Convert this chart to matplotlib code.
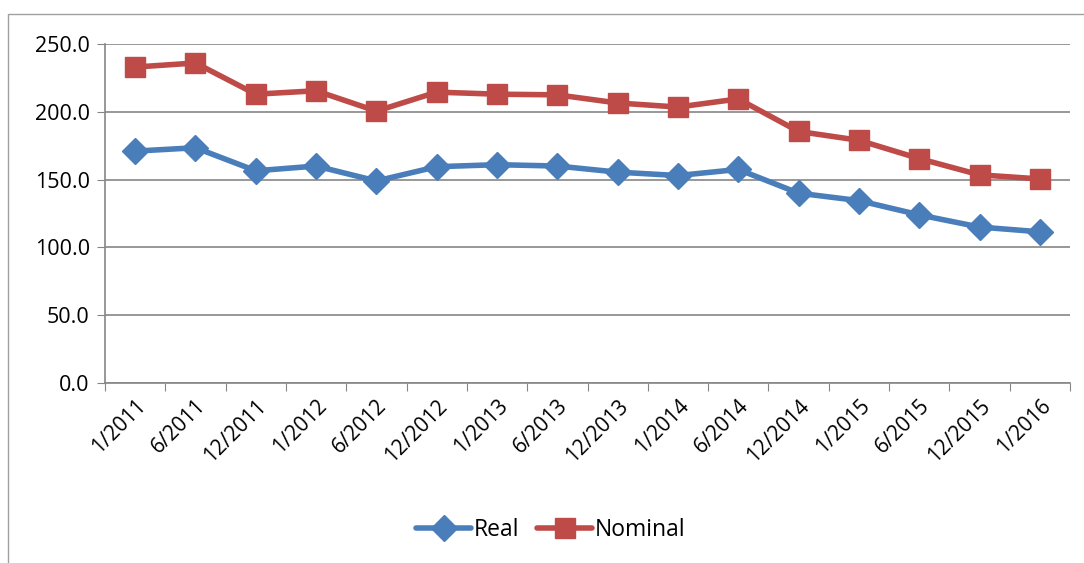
import numpy as np
import matplotlib.pyplot as plt

# valeurs lues par periode
periodes = ["1/2011", "6/2011", "12/2011", "1/2012", "6/2012", "12/2012",
            "1/2013", "6/2013", "12/2013", "1/2014", "6/2014", "12/2014",
            "1/2015", "6/2015", "12/2015", "1/2016"]
reel = [171.0, 173.5, 156.5, 160.0, 149.0, 159.5, 161.0, 160.0,
        155.5, 153.0, 157.5, 140.0, 134.5, 124.0, 115.0, 111.5]
nominal = [233.0, 236.0, 213.0, 215.5, 200.5, 214.5, 213.0, 212.5,
           206.5, 203.5, 209.5, 185.5, 179.0, 165.5, 153.5, 150.5]

plt.rcParams['font.family'] = ['Open Sans', 'DejaVu Sans']

fig = plt.figure(figsize=(10.84, 5.63), dpi=100)
ax = fig.add_axes([105 / 1084, 1 - 383 / 563, 965 / 1084, 339 / 563])

# cadre du graphique
cadre = plt.Rectangle((8 / 1084, -0.1), 1.2, 1 - 14 / 563 + 0.1,
                      transform=fig.transFigure, fill=False,
                      edgecolor='#a0a0a0', linewidth=1.0)
fig.patches.append(cadre)

x = np.arange(len(periodes))
ax.plot(x, reel, color='#4a7ebb', lw=4.0, marker='D', ms=13,
        label='Real', solid_capstyle='round', solid_joinstyle='round')
ax.plot(x, nominal, color='#be4b48', lw=4.0, marker='s', ms=14,
        label='Nominal', solid_capstyle='round', solid_joinstyle='round')

ax.set_xlim(-0.5, len(periodes) - 0.5)
ax.set_ylim(0, 250)
ax.set_yticks(np.arange(0, 251, 50))
ax.set_yticklabels(["{:.1f}".format(v) for v in np.arange(0, 251, 50)],
                   fontsize=15.5)
ax.yaxis.grid(True, color='#868686', lw=1.2)
ax.set_axisbelow(True)

# graduations entre les categories
ax.set_xticks(np.arange(-0.5, len(periodes), 1.0))
ax.set_xticklabels([])
ax.set_xticks(x, minor=True)
ax.set_xticklabels(periodes, minor=True, rotation=45, ha='right',
                   rotation_mode='anchor', fontsize=15)
ax.tick_params(axis='x', which='minor', length=0, pad=9)
ax.tick_params(axis='x', which='major', length=6, color='#868686')
ax.tick_params(axis='y', length=6, color='#868686', pad=5)

for s in ['top', 'right']:
    ax.spines[s].set_visible(False)
for s in ['left', 'bottom']:
    ax.spines[s].set_color('#868686')
    ax.spines[s].set_linewidth(1.2)

ax.legend(loc='center', bbox_to_anchor=(0.462, -0.435), ncol=2, frameon=False,
          fontsize=16.5, handlelength=2.4, handletextpad=0.1,
          columnspacing=0.8)

plt.savefig('out.png', dpi=100)
